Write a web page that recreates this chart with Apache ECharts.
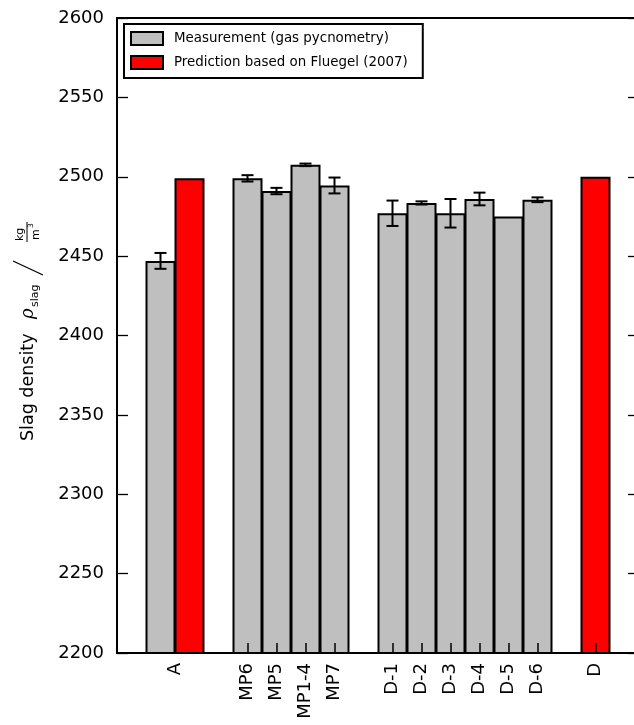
<!DOCTYPE html>
<html>
<head>
<meta charset="utf-8">
<script src="https://cdn.jsdelivr.net/npm/echarts@6/dist/echarts.min.js"></script>
<style>
  html, body { margin: 0; padding: 0; background: #fff; overflow: hidden; }
  #chart { width: 634px; height: 725px; }
</style>
</head>
<body>
<div id="chart"></div>
<script>
// slots along the x axis, '' = empty gap slot
const slotNames = ['', 'A', 'A pred', '', 'MP6', 'MP5', 'MP1-4', 'MP7', '', 'D-1', 'D-2', 'D-3', 'D-4', 'D-5', 'D-6', '', 'D pred', ''];
const measured  = ['-', 2447, '-', '-', 2499, 2491, 2507.5, 2494.5, '-', 2477, 2483.5, 2477, 2486, 2475, 2485.5, '-', '-', '-'];
const measErr   = [0, 5, 0, 0, 2, 2, 0.8, 5, 0, 8, 1, 9, 4, 0, 1.5, 0, 0, 0];
const predicted = ['-', '-', 2499, '-', '-', '-', '-', '-', '-', '-', '-', '-', '-', '-', '-', '-', 2500, '-'];

// tick labels and their position in slot units
const xTickLabels = ['A', 'MP6', 'MP5', 'MP1-4', 'MP7', 'D-1', 'D-2', 'D-3', 'D-4', 'D-5', 'D-6', 'D'];
const xTickPos    = [2, 4.5, 5.5, 6.5, 7.5, 9.5, 10.5, 11.5, 12.5, 13.5, 14.5, 16.5];

const yMin = 2200, yMax = 2600, yStep = 50;
const FONT = '"DejaVu Sans", sans-serif';

// half-slot axis used only for ticks + labels
const halfCats = [];
for (let i = 0; i <= slotNames.length * 2; i++) halfCats.push('');
xTickPos.forEach((p, i) => { halfCats[Math.round(p * 2)] = xTickLabels[i]; });

const errData = [];
measured.forEach((v, i) => {
    if (v !== '-' && measErr[i] > 0) errData.push([i, v, measErr[i]]);
});

const chart = echarts.init(document.getElementById('chart'));

const option = {
    animation: false,
    grid: {
        left: 117, top: 18, width: 522, bottom: 72,
        outerBoundsMode: 'none', containLabel: false,
        show: true, borderColor: '#000', borderWidth: 2, backgroundColor: 'transparent'
    },
    legend: {
        orient: 'vertical',
        left: 124, top: 24,
        padding: [7, 15, 8, 6],
        itemGap: 9,
        itemWidth: 32, itemHeight: 13,
        backgroundColor: '#fff',
        borderColor: '#000', borderWidth: 2, borderRadius: 0,
        textStyle: { fontFamily: FONT, fontSize: 13.4, color: '#000', padding: [0, 0, 0, 6] },
        data: [
            { name: 'Measurement (gas pycnometry)', icon: 'rect', itemStyle: { color: '#bfbfbf', borderColor: '#000', borderWidth: 2 } },
            { name: 'Prediction based on Fluegel (2007)', icon: 'rect', itemStyle: { color: '#ff0000', borderColor: '#000', borderWidth: 2 } }
        ]
    },
    xAxis: [
        {
            type: 'category', data: slotNames, z: 10,
            axisLine: { lineStyle: { color: '#000', width: 2 } },
            axisTick: { show: false }, axisLabel: { show: false }, splitLine: { show: false }
        },
        {
            type: 'category', data: halfCats, boundaryGap: false, position: 'bottom', z: 10,
            axisLine: { show: false },
            axisTick: {
                show: true, inside: true, length: 10,
                lineStyle: { color: '#000', width: 1.5 },
                interval: (idx, val) => val !== ''
            },
            axisLabel: {
                interval: 0, rotate: 90, margin: 10,
                fontFamily: FONT, fontSize: 18, color: '#000'
            },
            splitLine: { show: false }
        }
    ],
    yAxis: [
        {
            type: 'value', min: yMin, max: yMax, interval: yStep, z: 10,
            axisLine: { show: true, lineStyle: { color: '#000', width: 2 } },
            axisTick: { show: true, inside: true, length: 11, lineStyle: { color: '#000', width: 1.3 } },
            axisLabel: { margin: 13, fontFamily: FONT, fontSize: 18, color: '#000', formatter: v => String(v) },
            splitLine: { show: false }
        },
        {
            type: 'value', min: yMin, max: yMax, interval: yStep, position: 'right', z: 10,
            axisLine: { show: true, lineStyle: { color: '#000', width: 2 } },
            axisTick: { show: true, inside: true, length: 11, lineStyle: { color: '#000', width: 1.3 } },
            axisLabel: { show: false },
            splitLine: { show: false }
        }
    ],
    series: [
        {
            name: 'Measurement (gas pycnometry)', type: 'bar',
            data: measured, barGap: '-100%', barWidth: 30,
            itemStyle: { color: '#bfbfbf', borderColor: '#000', borderWidth: 2 }
        },
        {
            name: 'Prediction based on Fluegel (2007)', type: 'bar',
            data: predicted, barGap: '-100%', barWidth: 30,
            itemStyle: { color: '#ff0000', borderColor: '#000', borderWidth: 2 }
        },
        {
            type: 'custom', z: 5,
            data: errData,
            renderItem: (params, api) => {
                const x = api.value(0), v = api.value(1), e = api.value(2);
                const hi = api.coord([x, v + e]);
                const lo = api.coord([x, v - e]);
                const cap = 6;
                const st = { stroke: '#000', lineWidth: 2 };
                return {
                    type: 'group',
                    children: [
                        { type: 'line', shape: { x1: hi[0], y1: hi[1], x2: lo[0], y2: lo[1] }, style: st },
                        { type: 'line', shape: { x1: hi[0] - cap, y1: hi[1], x2: hi[0] + cap, y2: hi[1] }, style: st },
                        { type: 'line', shape: { x1: lo[0] - cap, y1: lo[1], x2: lo[0] + cap, y2: lo[1] }, style: st }
                    ]
                };
            }
        }
    ],
    graphic: [
        {
            // y axis title, rotated
            type: 'group', x: 28, y: 441, rotation: Math.PI / 2,
            children: [
                { type: 'text', x: 0, y: 0, style: { text: 'Slag density', font: '17.5px ' + FONT, fill: '#000', verticalAlign: 'middle' } },
                { type: 'text', x: 122, y: 0, style: { text: 'ρ', font: 'italic 18px "DejaVu Serif", serif', fill: '#000', verticalAlign: 'middle' } },
                { type: 'text', x: 134, y: 7, style: { text: 'slag', font: '11px ' + FONT, fill: '#000', verticalAlign: 'middle' } },
                { type: 'line', shape: { x1: 166, y1: 15, x2: 180, y2: -15 }, style: { stroke: '#000', lineWidth: 1.3 } },
                { type: 'text', x: 200, y: -8, style: { text: 'kg', font: '11px ' + FONT, fill: '#000', verticalAlign: 'middle' } },
                { type: 'line', shape: { x1: 199, y1: -1, x2: 219, y2: -1 }, style: { stroke: '#000', lineWidth: 1 } },
                { type: 'text', x: 201, y: 8, style: { text: 'm', font: '11px ' + FONT, fill: '#000', verticalAlign: 'middle' } },
                { type: 'text', x: 213, y: 3, style: { text: '3', font: '7.5px ' + FONT, fill: '#000', verticalAlign: 'middle' } }
            ]
        }
    ]
};

chart.setOption(option);
</script>
</body>
</html>
